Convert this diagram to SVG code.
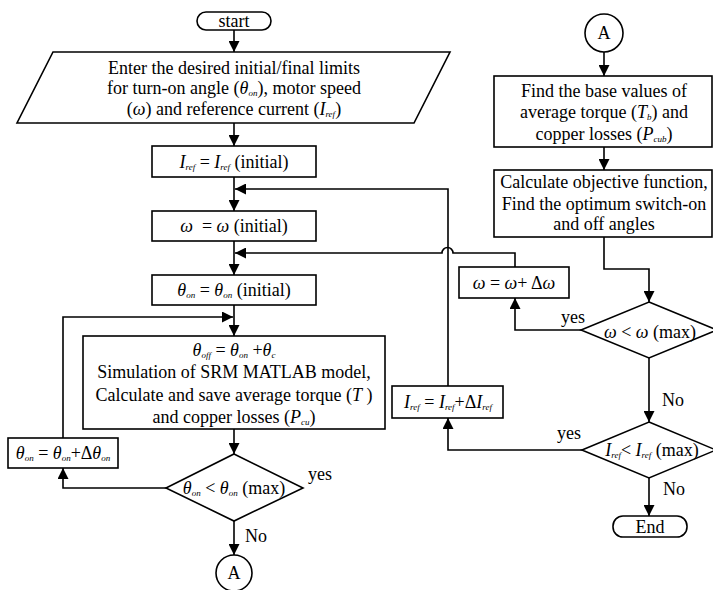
<svg xmlns="http://www.w3.org/2000/svg" width="713" height="590" viewBox="0 0 713 590">
<style>
text{font-family:"Liberation Serif","Times New Roman",serif;font-size:18px;fill:#000;text-anchor:middle}
.i{font-style:italic}
.s{font-style:italic;font-size:9px}
.shape{fill:#fff;stroke:#000;stroke-width:1.6}
.c{fill:none;stroke:#000;stroke-width:1.6}
.lbl{text-anchor:start}
</style>
<defs>
<marker id="ah" viewBox="0 0 10 10" refX="10" refY="5" markerWidth="11" markerHeight="11" markerUnits="userSpaceOnUse" orient="auto">
<path d="M0,0 L10,5 L0,10 z" fill="#000"/>
</marker>
</defs>
<g id="connectors">
<path class="c" marker-end="url(#ah)" d="M234,30 V52"/>
<path class="c" marker-end="url(#ah)" d="M234,123 V146"/>
<path class="c" marker-end="url(#ah)" d="M234,177 V211"/>
<path class="c" marker-end="url(#ah)" d="M234,241 V275"/>
<path class="c" marker-end="url(#ah)" d="M234,305 V336"/>
<path class="c" marker-end="url(#ah)" d="M234,429 V454"/>
<path class="c" marker-end="url(#ah)" d="M234,521 V555"/>
<path class="c" marker-end="url(#ah)" d="M166,488 H63 V468"/>
<path class="c" marker-end="url(#ah)" d="M63,438 V317 H233"/>
<path class="c" marker-end="url(#ah)" d="M604,52 V76"/>
<path class="c" marker-end="url(#ah)" d="M604,147 V170"/>
<path class="c" marker-end="url(#ah)" d="M604,237 V269 H649 V302"/>
<path class="c" marker-end="url(#ah)" d="M581,330 H515 V298"/>
<path class="c" marker-end="url(#ah)" d="M515,267 V253 H453 A5.5,5.5 0 0 0 442,253 H235"/>
<path class="c" marker-end="url(#ah)" d="M649,358 V422"/>
<path class="c" marker-end="url(#ah)" d="M582,450 H448 V418"/>
<path class="c" marker-end="url(#ah)" d="M448,386 V189 H235"/>
<path class="c" marker-end="url(#ah)" d="M649,478 V516"/>
<text class="lbl" x="308" y="480">yes</text>
<text class="lbl" x="245" y="542">No</text>
<text class="lbl" x="561" y="323">yes</text>
<text class="lbl" x="662" y="406">No</text>
<text class="lbl" x="557" y="439">yes</text>
<text class="lbl" x="663" y="495">No</text>
</g>
<g id="start">
<rect class="shape" x="197" y="12" width="74" height="18" rx="9"/>
<text x="234" y="27">start</text>
</g>
<g id="input">
<polygon class="shape" points="53,52 450,52 414,123 17,123"/>
<text x="234" y="74">Enter the desired initial/final limits</text>
<text x="234" y="94">for turn-on angle (<tspan class="i">θ</tspan><tspan class="s" dy="1.5">on</tspan><tspan dy="-1.5">), motor speed</tspan></text>
<text x="234" y="115">(<tspan class="i">ω</tspan>) and reference current (<tspan class="i">I</tspan><tspan class="s" dy="1.5">ref</tspan><tspan dy="-1.5">)</tspan></text>
</g>
<g id="iref-init">
<rect class="shape" x="152" y="146" width="164" height="31"/>
<text x="234" y="168"><tspan class="i">I</tspan><tspan class="s" dy="1.5">ref</tspan><tspan dy="-1.5"> = </tspan><tspan class="i">I</tspan><tspan class="s" dy="1.5">ref</tspan><tspan dy="-1.5"> (initial)</tspan></text>
</g>
<g id="w-init">
<rect class="shape" x="152" y="211" width="164" height="30"/>
<text x="234" y="232"><tspan class="i">ω</tspan>&#160; = <tspan class="i">ω</tspan> (initial)</text>
</g>
<g id="theta-init">
<rect class="shape" x="152" y="275" width="164" height="30"/>
<text x="234" y="296"><tspan class="i">θ</tspan><tspan class="s" dy="1.5">on</tspan><tspan dy="-1.5"> = </tspan><tspan class="i">θ</tspan><tspan class="s" dy="1.5">on</tspan><tspan dy="-1.5"> (initial)</tspan></text>
</g>
<g id="simulate">
<rect class="shape" x="83" y="336" width="302" height="93"/>
<text x="234" y="356"><tspan class="i">θ</tspan><tspan class="s" dy="1.5">off</tspan><tspan dy="-1.5"> = </tspan><tspan class="i">θ</tspan><tspan class="s" dy="1.5">on</tspan><tspan dy="-1.5"> +</tspan><tspan class="i">θ</tspan><tspan class="s" dy="1.5">c</tspan></text>
<text x="234" y="378">Simulation of SRM MATLAB model,</text>
<text x="234" y="401">Calculate and save average torque (<tspan class="i">T</tspan> )</text>
<text x="234" y="423">and copper losses (<tspan class="i">P</tspan><tspan class="s" dy="1.5">cu</tspan><tspan dy="-1.5">)</tspan></text>
</g>
<g id="theta-check">
<polygon class="shape" points="234,454 303,488 234,521 166,488"/>
<text x="234" y="494"><tspan class="i">θ</tspan><tspan class="s" dy="1.5">on</tspan><tspan dy="-1.5"> &lt; </tspan><tspan class="i">θ</tspan><tspan class="s" dy="1.5">on</tspan><tspan dy="-1.5"> (max)</tspan></text>
</g>
<g id="theta-inc">
<rect class="shape" x="8" y="438" width="110" height="30"/>
<text x="63" y="459"><tspan class="i">θ</tspan><tspan class="s" dy="1.5">on</tspan><tspan dy="-1.5"> = </tspan><tspan class="i">θ</tspan><tspan class="s" dy="1.5">on</tspan><tspan dy="-1.5">+Δ</tspan><tspan class="i">θ</tspan><tspan class="s" dy="1.5">on</tspan></text>
</g>
<g id="connector-a-out">
<circle class="shape" cx="234" cy="573" r="18"/>
<text x="234" y="579">A</text>
</g>
<g id="connector-a-in">
<circle class="shape" cx="604" cy="33" r="19"/>
<text x="604" y="39">A</text>
</g>
<g id="base-values">
<rect class="shape" x="494" y="76" width="218" height="71"/>
<text x="604" y="97">Find the base values of</text>
<text x="604" y="118">average torque (<tspan class="i">T</tspan><tspan class="s" dy="1.5">b</tspan><tspan dy="-1.5">) and</tspan></text>
<text x="604" y="140">copper losses (<tspan class="i">P</tspan><tspan class="s" dy="1.5">cub</tspan><tspan dy="-1.5">)</tspan></text>
</g>
<g id="objective">
<rect class="shape" x="494" y="170" width="218" height="67"/>
<text x="604" y="188">Calculate objective function,</text>
<text x="604" y="210">Find the optimum switch-on</text>
<text x="604" y="230">and off angles</text>
</g>
<g id="w-check">
<polygon class="shape" points="649,302 717,330 649,358 581,330"/>
<text x="650" y="338"><tspan class="i">ω</tspan> &lt; <tspan class="i">ω</tspan> (max)</text>
</g>
<g id="w-inc">
<rect class="shape" x="459" y="267" width="110" height="31"/>
<text x="514" y="289"><tspan class="i">ω</tspan> = <tspan class="i">ω</tspan>+ Δ<tspan class="i">ω</tspan></text>
</g>
<g id="iref-check">
<polygon class="shape" points="649,422 716,450 649,478 582,450"/>
<text x="652" y="456"><tspan class="i">I</tspan><tspan class="s" dy="1.5">ref</tspan><tspan dy="-1.5">&lt; </tspan><tspan class="i">I</tspan><tspan class="s" dy="1.5">ref</tspan><tspan dy="-1.5"> (max)</tspan></text>
</g>
<g id="iref-inc">
<rect class="shape" x="392" y="386" width="111" height="32"/>
<text x="448" y="408"><tspan class="i">I</tspan><tspan class="s" dy="1.5">ref</tspan><tspan dy="-1.5"> = </tspan><tspan class="i">I</tspan><tspan class="s" dy="1.5">ref</tspan><tspan dy="-1.5">+Δ</tspan><tspan class="i">I</tspan><tspan class="s" dy="1.5">ref</tspan></text>
</g>
<g id="end">
<rect class="shape" x="613" y="516" width="74" height="21" rx="10"/>
<text x="650" y="533">End</text>
</g>
</svg>
